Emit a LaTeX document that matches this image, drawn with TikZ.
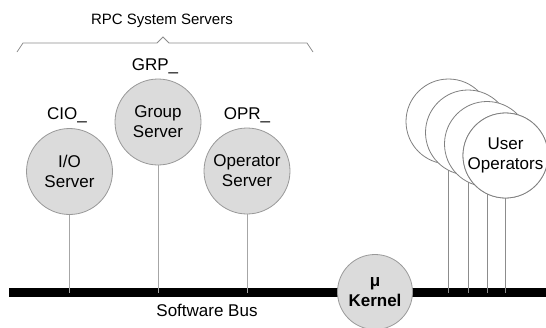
\documentclass[tikz,border=0pt]{standalone}
\usepackage{fontspec}
\setmainfont{Liberation Sans}
\usetikzlibrary{calc}

\tikzset{
    server/.style={circle, draw=black!40, fill=black!14, line width=0.8pt,
        minimum size=86pt, inner sep=0pt, align=center,
        font=\fontsize{17}{20}\selectfont},
    userop/.style={circle, draw=black!50, fill=white, line width=0.8pt,
        minimum size=85pt, inner sep=0pt, align=center,
        font=\fontsize{17}{20}\selectfont},
    tap/.style={draw=black!35, line width=0.8pt},
    tag/.style={font=\fontsize{17}{20}\selectfont}
}

\begin{document}
\begin{tikzpicture}[x=1pt,y=-1pt]
\useasboundingbox (0,0) rectangle (546,327);

% Bus
\coordinate (busL) at (9,292.5);
\coordinate (busR) at (546,292.5);
\draw[line width=9pt] (busL) -- (busR);
\node[tag] (buslabel) at (207,310) {Software Bus};

% Brace over the system servers
\draw[black!45, line width=0.8pt] (17,52) -- (23,43) -- (157,43) -- (163,37)
    -- (169,43) -- (307,43) -- (313,52);
\node[font=\fontsize{15}{18}\selectfont] (rpc) at (162,21) {RPC System Servers};

% System servers
\node[server] (io) at (69.5,171.5) {I/O\\Server};
\node[server] (grp) at (158,122) {Group\\Server};
\node[server] (opr) at (247,171) {Operator\\Server};

\node[tag] (cio) at (67,115) {CIO\_};
\node[tag] (grpname) at (155,66) {GRP\_};
\node[tag] (oprname) at (247,115) {OPR\_};

\draw[tap] (io) -- (io |- busL);
\draw[tap] (grp) -- (grp |- busL);
\draw[tap] (opr) -- (opr |- busL);

% User operators, back to front
\foreach \i/\x/\y in {1/448.5/121.5, 2/468/132.5, 3/487/144, 4/505.5/155.5} {
    \node (u\i) at (\x,\y) {};
    \draw[tap, draw=black!45] (u\i.center) -- (u\i |- busL);
    \node[userop] at (u\i) {};
}
\node[userop] (user) at (u4) {User\\Operators};

% Kernel sits on the bus
\node[server, minimum size=75pt, font=\fontsize{17}{20}\selectfont\bfseries]
    (kernel) at (375,292) {μ\\Kernel};
\end{tikzpicture}
\end{document}
